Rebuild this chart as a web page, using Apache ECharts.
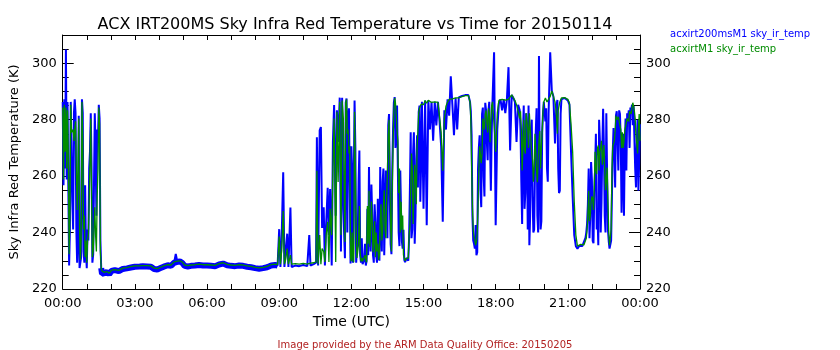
<!DOCTYPE html>
<html>
<head>
<meta charset="utf-8">
<script src="https://cdn.jsdelivr.net/npm/echarts@6/dist/echarts.min.js"></script>
<style>html,body{margin:0;padding:0;background:#fff}#c{width:840px;height:350px}</style>
</head>
<body>
<div id="c"></div>
<script>
// ---- data (time in minutes UTC, temperatures in K) ----
const titleText = 'ACX IRT200MS Sky Infra Red Temperature vs Time for 20150114';
const footerText = 'Image provided by the ARM Data Quality Office: 20150205';
const seriesNames = ['acxirt200msM1 sky_ir_temp', 'acxirtM1 sky_ir_temp'];
const xTickLabels = ['00:00','03:00','06:00','09:00','12:00','15:00','18:00','21:00','00:00'];
const yTickLabels = [220, 240, 260, 280, 300];
const yMinorTicks = [225,230,235,245,250,255,265,270,275,285,290,295,305];

const timeMin = [
  0,2,4,6,8,10,12,14,16,18,20,22,24,26,28,30,32,34,36,38,
  40,42,44,46,48,50,52,54,56,58,60,62,64,66,68,70,72,74,76,78,
  80,82,84,86,88,90,92,94,96,98,
  104,110,116,122,130,140,150,160,170,180,192,200,210,220,228,236,244,252,262,270,
  278,282,286,292,298,304,312,320,330,340,350,360,370,380,390,400,410,420,430,440,
  450,460,470,480,490,500,510,520,530,
  536,540,543,546,550,553,556,560,563,568,571,580,590,600,610,615,618,626,632,634,
  637,641,644,647,651,654,657,661,664,667,671,674,677,681,684,687,691,694,697,700,
  704,708,712,716,720,724,728,732,736,740,744,748,752,756,760,764,768,772,776,780,
  784,788,792,796,800,804,808,812,816,820,824,828,832,836,840,844,848,852,856,860,
  864,868,872,876,880,884,888,892,896,900,904,908,912,916,920,924,928,932,936,940,
  944,948,952,956,960,964,968,972,976,980,984,988,992,996,1000,1004,1008,1012,1016,1020,
  1024,1028,1032,1036,1040,1044,1048,1052,1056,1060,1064,1068,1072,1076,1080,1084,1088,1092,1096,1100,
  1104,1108,1112,1116,1120,1124,1128,1132,1136,1140,1144,1148,1152,1156,1160,1164,1168,1172,1176,1180,
  1184,1188,1192,1196,1200,1204,1208,1212,1216,1220,1224,1228,1232,1236,1240,1244,1248,1252,1256,1260,
  1264,1268,1272,1276,1280,1284,1288,1292,1296,1300,1304,1308,1312,1316,1320,1324,1328,1332,1336,1340,
  1344,1348,1352,1356,1360,1364,1368,1372,1376,1380,1384,1388,1392,1396,1400,1404,1408,1412,1416,1420,
  1424,1428,1432,1436,1440
];

// acxirt200msM1 (blue)
const irt200ms = [
  286.3,256.8,287.2,262.7,304.9,258.8,286.3,256.8,228.3,241.1,286.3,268.6,250.9,241.1,282.3,287.2,282.3,241.1,229.3,237.2,
  281.4,227.4,227.4,231.3,287.2,282.3,233.3,229.3,256.8,233.3,227.4,241.1,237.2,262.7,268.6,282.3,262.7,229.3,232.3,256.8,
  282.3,270.6,246.0,276.5,272.5,285.3,280.4,237.2,227.4,225.4,
  225.6,226.0,225.3,226.4,226.7,226.3,227.1,227.3,227.6,227.9,228.0,228.1,228.0,227.9,227.1,226.9,227.4,227.9,228.4,228.2,
  229.3,232.4,229.6,229.8,229.3,228.2,228.0,228.2,228.3,228.5,228.3,228.3,228.2,228.1,228.7,229.0,228.4,228.2,228.1,228.3,
  228.2,227.9,227.7,227.4,227.2,227.4,227.7,228.3,228.5,
  228.3,241.2,227.8,237.2,261.4,227.8,233.3,239.6,227.8,248.9,227.8,228.3,228.1,228.5,228.1,239.1,228.3,228.8,229.3,273.8,
  228.3,276.2,277.4,241.6,249.0,228.3,242.6,255.9,239.1,255.4,228.3,272.1,285.2,246.0,283.3,272.1,287.8,233.3,287.8,248.4,
  230.9,287.5,281.4,256.8,270.6,229.3,286.8,229.3,239.1,269.1,229.3,228.8,230.3,228.3,248.4,263.2,233.3,246.0,229.3,243.6,
  229.3,237.2,263.2,233.3,262.7,231.3,255.8,278.0,250.9,232.3,276.5,288.0,279.4,262.7,235.2,246.9,234.3,230.3,229.8,230.3,
  238.1,275.5,241.1,275.5,246.0,274.5,282.7,250.9,286.3,248.4,286.8,242.6,286.9,276.5,286.3,272.5,286.3,278.0,286.3,279.4,
  270.6,243.8,283.3,276.5,287.2,281.4,295.4,285.3,274.5,287.7,276.5,287.9,288.2,288.4,288.2,288.7,289.2,288.7,286.3,274.5,
  237.2,234.3,232.0,262.7,274.5,249.0,284.3,252.8,283.3,265.6,286.3,254.8,286.3,303.9,242.6,276.5,285.8,287.2,283.3,287.2,
  282.3,287.2,298.6,269.1,288.7,287.7,286.3,272.1,285.3,283.3,257.8,274.5,248.4,282.3,241.1,235.5,275.5,252.8,241.1,275.5,
  246.0,302.6,241.1,275.5,286.3,279.4,262.7,282.3,303.9,290.2,288.2,271.6,285.3,262.7,254.8,287.2,287.7,287.7,287.7,286.8,
  285.3,268.6,252.8,239.1,235.2,234.3,235.2,235.5,235.2,235.4,238.1,243.1,262.7,246.0,258.8,236.2,262.7,241.1,235.5,272.5,
  250.9,283.9,246.0,282.3,241.1,234.3,237.2,268.6,270.6,281.4,282.3,283.3,272.5,262.7,246.0,280.4,282.3,283.3,284.3,285.3,
  284.8,262.7,272.5,254.8,278.4
];

// acxirtM1 (green)
const irt = [
  284.3,258.8,285.3,268.6,284.3,262.7,283.3,266.6,232.3,246.0,285.3,275.5,275.5,276.5,272.5,276.5,279.4,262.7,248.0,262.7,
  280.4,241.1,230.3,237.2,286.3,272.5,241.1,246.0,231.3,237.2,229.3,237.2,239.1,250.9,265.6,280.4,252.8,231.3,233.3,241.1,
  249.0,239.1,233.3,252.8,262.7,284.3,278.4,233.3,227.4,226.4,
  225.9,226.2,225.6,226.7,226.9,226.6,227.4,227.6,227.9,228.2,228.2,228.3,228.3,228.2,227.4,227.2,227.7,228.2,228.6,228.5,
  229.6,229.8,229.9,230.0,229.6,228.5,228.3,228.5,228.6,228.8,228.6,228.6,228.5,228.4,229.0,229.3,228.7,228.5,228.4,228.6,
  228.5,228.2,228.0,227.7,227.5,227.7,228.0,228.6,228.8,
  228.6,238.6,228.8,233.3,247.6,228.8,230.3,234.3,228.8,232.0,228.8,229.0,228.8,229.1,228.8,229.1,229.0,229.3,229.6,261.9,
  228.8,239.1,228.8,234.3,233.3,229.6,239.1,243.8,229.6,248.4,239.1,262.7,280.4,229.6,282.8,257.9,286.3,239.1,286.8,280.4,
  236.7,287.2,276.5,270.6,229.8,230.3,282.8,241.1,230.3,249.4,229.8,229.8,229.3,230.3,249.4,254.8,241.1,244.1,237.2,231.3,
  233.3,230.3,245.0,237.2,249.0,241.1,250.9,274.5,262.7,233.3,270.6,287.7,281.4,272.5,262.7,250.9,246.0,231.3,230.8,231.3,
  239.1,254.8,262.7,252.8,258.8,270.6,282.3,283.3,285.8,285.3,286.8,285.8,286.9,286.3,286.1,286.3,286.3,285.8,286.1,286.3,
  275.5,261.9,280.4,284.8,286.3,287.2,287.4,287.4,287.2,287.7,287.7,287.7,288.2,288.2,288.4,288.5,289.0,288.5,286.3,263.6,
  241.1,237.2,236.7,249.0,270.6,264.6,280.4,276.5,283.3,275.5,282.3,279.4,286.3,278.4,268.6,282.3,286.8,287.2,287.2,287.2,
  286.9,286.9,287.2,287.7,288.8,288.2,286.8,285.3,285.3,280.4,276.5,270.6,269.6,282.3,276.5,282.3,272.5,265.6,262.7,268.6,
  257.8,272.5,262.7,270.6,286.3,287.7,286.3,287.2,288.2,290.2,290.9,286.3,280.4,283.3,286.3,287.7,287.7,287.8,287.7,287.2,
  285.9,278.4,268.6,250.9,239.1,235.2,235.5,235.8,235.5,235.6,237.2,241.1,254.8,246.0,252.8,248.0,268.6,260.7,270.9,268.6,
  272.5,267.6,262.7,258.8,250.9,235.5,241.1,270.6,272.5,281.4,280.4,279.4,276.5,275.5,272.5,276.5,280.4,279.4,282.3,284.3,
  284.8,280.4,271.6,276.5,272.5
];

// additional readings in the densest stretches (merged by time below)
const extraTime = [
  706,710,714,718,722,726,730,734,738,742,746,750,754,758,762,766,770,774,778,782,
  786,790,794,798,802,806,810,814,818,822,826,830,834,838,842,846,850,854,858,862,
  866,870,874,878,882,886,890,894,898,
  1018,1022,1026,1030,1034,1038,1042,1046,1050,1054,1058,1062,1066,1070,
  1142,1146,1150,1154,1158,1162,1166,1170,1174,1178,1182,1186,1190,1194,1198,1206,1210,1230,1234,1238,1242,
  1306,1310,1314,1318,1322,1326,1330,1334,1338,1342,1346,1350,1354,1358,1362,1366,1370,1374,1378,1382,
  1386,1390,1394,1398,1402,1406,1410,1414,1418,1422,1426,1430,1434,1438
];
const extraIrt200ms = [
  286,240,284,229,262,229.5,270,230,258,232,238,229,236,230,232,240,257,232,250,232,
  252,230,240,258,232,262,238,282,236,262,286,270,285,240,262,237,241,229.5,231,230,
  255,238,268,236,266,256,285,264,286.5,
  283,246,236,242.7,233,270,255,282,260,286,272,283,286,275,
  276,243,285,254,272,285,246,280,240,262,284,240,260,244,282,284,258,280,287,254,282,
  240,250,238,265,237,254,275,246,280,240,270,270,240,260,237,235,253,277,256,283,
  262,282,247,275,270,262,280,270,283,278,285.5,256,280,265
];
const extraIrt = [
  286,275,268,231,240,229.5,262,231,236,233,231,229.5,232,229.5,236,235,251,233,244,240,
  236,232,250,240,255,238,262,280,242,256,283,286,276,254,240,241,232,230,230.5,231,
  242,268,243,264,250,276,284,285.5,286,
  280,249,238.6,235.5,240,262,270,268,280,282,279,284,272,285,
  283,262,280,268,283,270,283,268,258,275,262,266,276,270,283,287,286,284,275,284,287,
  238,246,244,251,252,256,262,270,262,270,264,271,255,263,240,236,262,271,276,280,
  281,278,270,270,276,279,280,283,282,286,283,274,268,282
];

// ---- build chart ----
function merge(times, vals, xt, xv) {
  return times.map((t, i) => [t, vals[i]])
    .concat(xt.map((t, i) => [t, xv[i]]))
    .sort((a, b) => a[0] - b[0]);
}
const blueData = merge(timeMin, irt200ms, extraTime, extraIrt200ms);
const greenData = merge(timeMin, irt, extraTime, extraIrt);
// the noisy, near-constant clear-sky stretch is drawn as a wider band
const blueQuiet = blueData.filter(d => d[0] >= 96 && d[0] <= 536 && d[1] < 231);

const FONT = 'DejaVu Sans';
const chart = echarts.init(document.getElementById('c'), null, {renderer: 'canvas'});

function xAxisCfg(pos) {
  return {
    type: 'value', position: pos, min: 0, max: 1440, interval: 180,
    axisLine: {show: true, onZero: false, lineStyle: {color: '#000', width: 1}},
    axisTick: {show: true, inside: true, length: 5, lineStyle: {color: '#000'}},
    minorTick: {show: true, splitNumber: 3, length: 5, lineStyle: {color: '#000'}},
    splitLine: {show: false},
    axisLabel: pos === 'bottom' ? {
      show: true, margin: 8, color: '#000', fontFamily: FONT, fontSize: 13,
      formatter: v => xTickLabels[Math.round(v / 180)]
    } : {show: false},
    name: pos === 'bottom' ? 'Time (UTC)' : '',
    nameLocation: 'middle', nameGap: 22,
    nameTextStyle: {color: '#000', fontFamily: FONT, fontSize: 14}
  };
}

function yAxisCfg(pos, major) {
  return {
    type: 'value', position: pos, min: 220, max: 310,
    axisLine: {show: major, onZero: false, lineStyle: {color: '#000', width: 1}},
    axisTick: {show: true, inside: true, length: major ? 11 : 6,
      customValues: major ? yTickLabels : yMinorTicks, lineStyle: {color: '#000'}},
    splitLine: {show: false},
    axisLabel: major ? {show: true, margin: 6, color: '#000', fontFamily: FONT, fontSize: 13,
      customValues: yTickLabels} : {show: false},
    name: (major && pos === 'left') ? 'Sky Infra Red Temperature (K)' : '',
    nameLocation: 'middle', nameGap: 40,
    nameTextStyle: {color: '#000', fontFamily: FONT, fontSize: 13}
  };
}

chart.setOption({
  backgroundColor: '#fff',
  animation: false,
  title: [
    {text: titleText, left: 350, top: 12, textAlign: 'center',
      textStyle: {color: '#000', fontFamily: FONT, fontSize: 16, fontWeight: 'normal'}},
    {text: footerText, left: 420, top: 335, textAlign: 'center',
      textStyle: {color: '#b22222', fontFamily: FONT, fontSize: 10, fontWeight: 'normal'}}
  ],
  legend: {
    show: true, orient: 'vertical', left: 660, top: 24, itemGap: 5,
    itemWidth: 0, itemHeight: 0, selectedMode: false,
    data: [
      {name: seriesNames[0], icon: 'rect', textStyle: {color: '#0000ff'}},
      {name: seriesNames[1], icon: 'rect', textStyle: {color: '#008c00'}}
    ],
    textStyle: {fontFamily: FONT, fontSize: 10}
  },
  grid: {left: 61, right: 200, top: 35, bottom: 61, containLabel: false},
  xAxis: [xAxisCfg('bottom'), xAxisCfg('top')],
  yAxis: [yAxisCfg('left', true), yAxisCfg('left', false), yAxisCfg('right', true), yAxisCfg('right', false)],
  series: [
    {name: seriesNames[0], type: 'line', data: blueQuiet, showSymbol: false, symbol: 'none',
      lineStyle: {color: '#0000ff', width: 6}, itemStyle: {color: '#0000ff'}, silent: true, z: 1},
    {name: seriesNames[0], type: 'line', data: blueData, showSymbol: false, symbol: 'none',
      lineStyle: {color: '#0000ff', width: 2}, itemStyle: {color: '#0000ff'}, silent: true, z: 2},
    {name: seriesNames[1], type: 'line', data: greenData, showSymbol: false, symbol: 'none',
      lineStyle: {color: '#008c00', width: 1.3}, itemStyle: {color: '#008c00'}, silent: true, z: 3}
  ]
});
</script>
</body>
</html>
